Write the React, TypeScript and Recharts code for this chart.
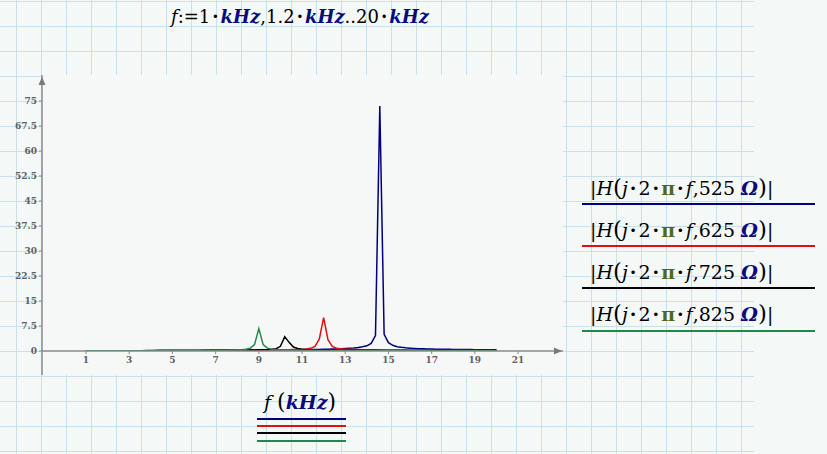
import React from "react";
import { LineChart, Line, XAxis, YAxis } from "recharts";

const freq = [
  1.0, 1.2, 1.4, 1.6, 1.8, 2.0, 2.2, 2.4, 2.6, 2.8,
  3.0, 3.2, 3.4, 3.6, 3.8, 4.0, 4.2, 4.4, 4.6, 4.8,
  5.0, 5.2, 5.4, 5.6, 5.8, 6.0, 6.2, 6.4, 6.6, 6.8,
  7.0, 7.2, 7.4, 7.6, 7.8, 8.0, 8.2, 8.4, 8.6, 8.8,
  9.0, 9.2, 9.4, 9.6, 9.8, 10.0, 10.2, 10.4, 10.6, 10.8,
  11.0, 11.2, 11.4, 11.6, 11.8, 12.0, 12.2, 12.4, 12.6, 12.8,
  13.0, 13.2, 13.4, 13.6, 13.8, 14.0, 14.2, 14.4, 14.6, 14.8,
  15.0, 15.2, 15.4, 15.6, 15.8, 16.0, 16.2, 16.4, 16.6, 16.8,
  17.0, 17.2, 17.4, 17.6, 17.8, 18.0, 18.2, 18.4, 18.6, 18.8,
  19.0, 19.2, 19.4, 19.6, 19.8, 20.0,
];

const h525 = [
  0.05, 0.05, 0.06, 0.06, 0.07, 0.07, 0.08, 0.08, 0.09, 0.09,
  0.10, 0.10, 0.11, 0.11, 0.12, 0.12, 0.13, 0.13, 0.14, 0.14,
  0.15, 0.15, 0.16, 0.16, 0.17, 0.18, 0.18, 0.19, 0.20, 0.20,
  0.21, 0.22, 0.22, 0.23, 0.24, 0.24, 0.25, 0.26, 0.27, 0.27,
  0.28, 0.29, 0.30, 0.31, 0.32, 0.33, 0.34, 0.35, 0.37, 0.38,
  0.40, 0.42, 0.44, 0.46, 0.48, 0.51, 0.54, 0.57, 0.61, 0.66,
  0.72, 0.80, 0.90, 1.03, 1.25, 1.55, 2.30, 4.60, 73.5, 5.00,
  2.50, 1.70, 1.30, 1.10, 0.95, 0.85, 0.77, 0.71, 0.66, 0.62,
  0.58, 0.55, 0.53, 0.51, 0.49, 0.47, 0.45, 0.44, 0.43, 0.42,
  0.41, 0.40, 0.39, 0.38, 0.37, 0.36,
];

const h625 = [
  0.04, 0.04, 0.05, 0.05, 0.06, 0.06, 0.07, 0.07, 0.08, 0.08,
  0.09, 0.09, 0.10, 0.10, 0.11, 0.11, 0.12, 0.12, 0.13, 0.13,
  0.14, 0.14, 0.15, 0.15, 0.16, 0.17, 0.17, 0.18, 0.19, 0.19,
  0.20, 0.21, 0.22, 0.22, 0.23, 0.24, 0.25, 0.26, 0.27, 0.28,
  0.29, 0.30, 0.31, 0.33, 0.34, 0.36, 0.38, 0.40, 0.43, 0.47,
  0.52, 0.62, 0.80, 1.40, 3.60, 10.0, 3.40, 1.40, 0.85, 0.65,
  0.55, 0.49, 0.45, 0.42, 0.39, 0.37, 0.35, 0.34, 0.32, 0.31,
  0.30, 0.29, 0.28, 0.28, 0.27, 0.26, 0.26, 0.25, 0.25, 0.24,
  0.24, 0.23, 0.23, 0.22, 0.22, 0.22, 0.21, 0.21, 0.21, 0.20,
  0.20, 0.20, 0.19, 0.19, 0.19, 0.18,
];

const h725 = [
  0.04, 0.04, 0.05, 0.05, 0.05, 0.06, 0.06, 0.07, 0.07, 0.08,
  0.08, 0.09, 0.09, 0.10, 0.10, 0.11, 0.11, 0.12, 0.12, 0.13,
  0.13, 0.14, 0.14, 0.15, 0.16, 0.16, 0.17, 0.18, 0.18, 0.19,
  0.20, 0.21, 0.22, 0.23, 0.24, 0.25, 0.26, 0.28, 0.30, 0.32,
  0.35, 0.38, 0.42, 0.50, 0.70, 1.40, 4.30, 2.60, 1.20, 0.75,
  0.55, 0.45, 0.40, 0.36, 0.33, 0.31, 0.29, 0.28, 0.26, 0.25,
  0.24, 0.23, 0.22, 0.22, 0.21, 0.20, 0.20, 0.19, 0.19, 0.18,
  0.18, 0.18, 0.17, 0.17, 0.17, 0.16, 0.16, 0.16, 0.15, 0.15,
  0.15, 0.15, 0.14, 0.14, 0.14, 0.14, 0.14, 0.13, 0.13, 0.13,
  0.13, 0.13, 0.12, 0.12, 0.12, 0.12,
];

const h825 = [
  0.04, 0.04, 0.04, 0.05, 0.05, 0.06, 0.06, 0.06, 0.07, 0.07,
  0.08, 0.08, 0.09, 0.09, 0.10, 0.10, 0.11, 0.11, 0.12, 0.12,
  0.13, 0.13, 0.14, 0.15, 0.15, 0.16, 0.17, 0.18, 0.19, 0.20,
  0.21, 0.23, 0.25, 0.27, 0.30, 0.34, 0.40, 0.52, 0.80, 1.90,
  6.70, 1.90, 0.85, 0.55, 0.42, 0.35, 0.31, 0.28, 0.26, 0.24,
  0.22, 0.21, 0.20, 0.19, 0.18, 0.18, 0.17, 0.16, 0.16, 0.15,
  0.15, 0.15, 0.14, 0.14, 0.14, 0.13, 0.13, 0.13, 0.13, 0.12,
  0.12, 0.12, 0.12, 0.12, 0.11, 0.11, 0.11, 0.11, 0.11, 0.11,
  0.10, 0.10, 0.10, 0.10, 0.10, 0.10, 0.10, 0.09, 0.09, 0.09,
  0.09, 0.09, 0.09, 0.09, 0.09, 0.09,
];

const resistances = [525, 625, 725, 825];
const seriesKeys = ["h525", "h625", "h725", "h825"];
const seriesColors = ["#000080", "#e01010", "#000000", "#1b8a4a"];
const xTicks = [1, 3, 5, 7, 9, 11, 13, 15, 17, 19, 21];
const yTicks = [0, 7.5, 15, 22.5, 30, 37.5, 45, 52.5, 60, 67.5, 75];

const data = freq.map((f, i) => ({
  f,
  h525: h525[i],
  h625: h625[i],
  h725: h725[i],
  h825: h825[i],
}));

const NAVY = "#0a0a80";
const MATH_FONT = "'DejaVu Serif', 'Liberation Serif', serif";
const tickStyle = { fontFamily: MATH_FONT, fontSize: 9, fill: "#5f5f5f", fontWeight: 700 };

const Dot = () => <span style={{ fontWeight: 700, margin: "0 2px" }}>·</span>;
const KHz = () => (
  <span style={{ fontWeight: 700, fontStyle: "italic", color: NAVY }}>kHz</span>
);

const Formula = ({ r }: { r: number }) => (
  <span style={{ whiteSpace: "nowrap" }}>
    |<i>H</i>
    <span style={{ fontSize: "1.2em" }}>(</span>
    <i>j</i>
    <Dot />2<Dot />
    <b style={{ color: "#4d6a1c" }}>π</b>
    <Dot />
    <i>f</i>,{r}{" "}
    <b>
      <i style={{ color: NAVY }}>Ω</i>
    </b>
    <span style={{ fontSize: "1.2em" }}>)</span>|
  </span>
);

export default function App() {
  const legendTops = [174, 216, 258, 300];
  const lineTops = [203, 245, 287, 330];
  const bottomLines = [418, 425, 432, 440];
  return (
    <div
      style={{
        position: "absolute",
        left: 0,
        top: 0,
        width: 827,
        height: 454,
        background: "#f4f8f6",
        overflow: "hidden",
        fontFamily: MATH_FONT,
      }}
    >
      <div
        style={{
          position: "absolute",
          left: 0,
          top: 0,
          width: 754,
          height: 454,
          backgroundImage:
            "linear-gradient(to right, #cbdfe9 1px, transparent 1px), linear-gradient(to bottom, #cbdfe9 1px, transparent 1px)",
          backgroundSize: "25px 25px",
          backgroundPosition: "16px 1px",
        }}
      />
      <div
        style={{
          position: "absolute",
          left: 42,
          top: 75,
          width: 521,
          height: 300,
          background: "#f5f8f6",
        }}
      />
      <div
        style={{
          position: "absolute",
          left: 171,
          top: 6,
          fontSize: 18,
          color: "#000",
          whiteSpace: "nowrap",
        }}
      >
        <i>f</i>:=1<Dot />
        <KHz />,1.2<Dot />
        <KHz />..20<Dot />
        <KHz />
      </div>

      <div style={{ position: "absolute", left: 0, top: 0 }}>
        <LineChart
          width={827}
          height={454}
          data={data}
          margin={{ top: 75, right: 264, bottom: 79, left: 0 }}
        >
          <XAxis
            dataKey="f"
            type="number"
            domain={[-1.037, 23.08]}
            ticks={xTicks}
            allowDataOverflow
            height={24}
            tickSize={3}
            tickMargin={3}
            tick={tickStyle}
            axisLine={{ stroke: "#8a8a8a", strokeWidth: 1.5 }}
            tickLine={{ stroke: "#8a8a8a" }}
          />
          <YAxis
            type="number"
            domain={[0, 82.8]}
            ticks={yTicks}
            allowDataOverflow
            width={42}
            tickSize={3}
            tickMargin={2}
            tick={tickStyle}
            axisLine={{ stroke: "#8a8a8a", strokeWidth: 1.5 }}
            tickLine={{ stroke: "#8a8a8a" }}
          />
          {seriesKeys.map((k, i) => (
            <Line
              key={k}
              dataKey={k}
              stroke={seriesColors[i]}
              strokeWidth={1.5}
              dot={false}
              type="linear"
              isAnimationActive={false}
            />
          ))}
        </LineChart>
      </div>

      <svg
        width={827}
        height={454}
        style={{ position: "absolute", left: 0, top: 0, pointerEvents: "none" }}
      >
        <line x1={42} y1={351} x2={42} y2={375} stroke="#8a8a8a" strokeWidth={1.5} />
        <polygon points="42,77 38.5,85 45.5,85" fill="#7a7a7a" />
        <polygon points="562,351 554,347.5 554,354.5" fill="#7a7a7a" />
      </svg>

      {resistances.map((r, i) => (
        <React.Fragment key={r}>
          <div
            style={{
              position: "absolute",
              left: 590,
              top: legendTops[i],
              fontSize: 19,
              color: "#000",
            }}
          >
            <Formula r={r} />
          </div>
          <div
            style={{
              position: "absolute",
              left: 582,
              top: lineTops[i],
              width: 233,
              height: 1.5,
              background: seriesColors[i],
            }}
          />
        </React.Fragment>
      ))}

      <div
        style={{
          position: "absolute",
          left: 264,
          top: 389,
          fontSize: 19,
          whiteSpace: "nowrap",
        }}
      >
        <i>f</i>{" "}
        <span style={{ fontSize: "1.15em" }}>(</span>
        <KHz />
        <span style={{ fontSize: "1.15em" }}>)</span>
      </div>
      {seriesColors.map((c, i) => (
        <div
          key={c}
          style={{
            position: "absolute",
            left: 257,
            top: bottomLines[i],
            width: 89,
            height: 1.5,
            background: c,
          }}
        />
      ))}
    </div>
  );
}
